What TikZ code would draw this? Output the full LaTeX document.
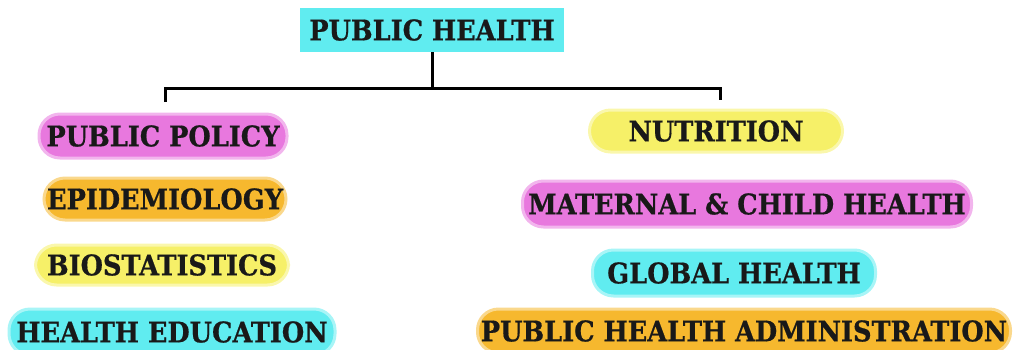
\documentclass[tikz,border=0pt]{standalone}
\usepackage{fontspec}
\setmainfont{DejaVu Serif Condensed}[BoldFeatures={FakeBold=0.6}]
\usetikzlibrary{positioning}

\definecolor{phcyan}{RGB}{96,236,240}
\definecolor{phpink}{RGB}{232,120,222}
\definecolor{phorange}{RGB}{246,184,46}
\definecolor{phyellow}{RGB}{246,240,104}

\begin{document}
\begin{tikzpicture}[x=1pt,y=-1pt,
  topic/.style={font=\fontsize{28.5}{30}\selectfont\bfseries, text=black!90, inner sep=0pt},
  pill/.style={topic, rounded corners=21pt, fill=#1, draw=#1!55, line width=3pt},
  tree/.style={line width=3pt, black}]
  \useasboundingbox (0,0) rectangle (1018,349);
  \clip (0,0) rectangle (1018,349);

  \node[topic, fill=phcyan, minimum width=264pt, minimum height=44pt] (ph) at (432,30) {PUBLIC HEALTH};

  % left column
  \node[pill=phpink, minimum width=248pt, minimum height=44pt] (policy) at (163,136) {PUBLIC POLICY};
  \node[pill=phorange, minimum width=242pt, minimum height=42pt] (epi) at (165,199) {EPIDEMIOLOGY};
  \node[pill=phyellow, minimum width=253pt, minimum height=40pt] (bio) at (162,265) {BIOSTATISTICS};
  \node[pill=phcyan, minimum width=326pt, minimum height=46pt] (edu) at (172,332) {HEALTH EDUCATION};

  % right column
  \node[pill=phyellow, minimum width=253pt, minimum height=42pt] (nutr) at (716,131) {NUTRITION};
  \node[pill=phpink, minimum width=449pt, minimum height=46pt] (mch) at (747,204) {MATERNAL \& CHILD HEALTH};
  \node[pill=phcyan, minimum width=283pt, minimum height=46pt] (glob) at (734,273) {GLOBAL HEALTH};
  \node[pill=phorange, minimum width=533pt, minimum height=44pt] (admin) at (744,331) {PUBLIC HEALTH ADMINISTRATION};

  \coordinate (bar) at (0,88);
  \coordinate (lt) at (165,102);
  \coordinate (rt) at (720,100);
  \draw[tree] (ph.south) -- (ph.south |- bar);
  \draw[tree] (lt) -- (lt |- bar) -- (rt |- bar) -- (rt);
\end{tikzpicture}
\end{document}
